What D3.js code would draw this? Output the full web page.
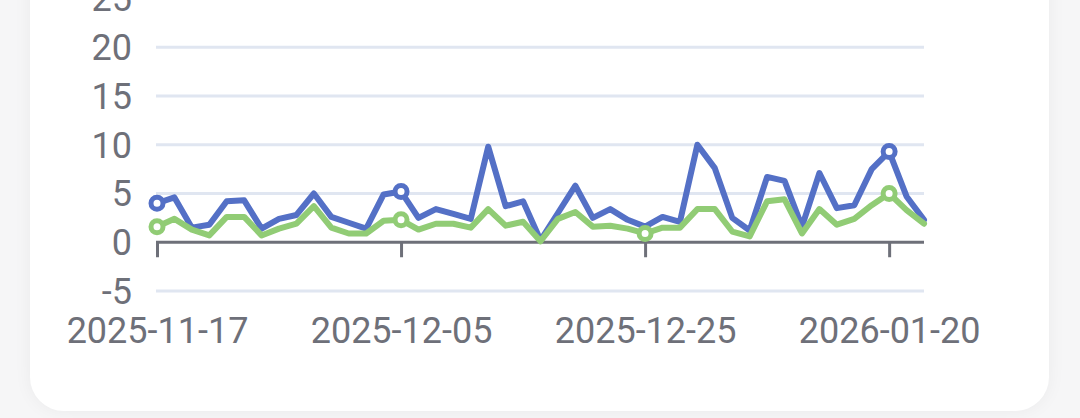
<!DOCTYPE html>
<html>
<head>
<meta charset="utf-8">
<script src="https://cdn.jsdelivr.net/npm/d3@7"></script>
<style>
  html, body { margin: 0; padding: 0; background: #f6f6f7; overflow: hidden; }
  .card {
    position: absolute; left: 30px; top: -60px; width: 1019px; height: 471px;
    background: #fff; border-radius: 34px;
    box-shadow: 0 0 18px rgba(0,0,0,0.05);
  }
  svg { position: absolute; left: 0; top: 0; }
  text { font-family: Roboto, "Noto Sans", sans-serif; }
</style>
</head>
<body>
<div class="card"></div>
<div class="chart"></div>
<script>
var NS = {};
NS.width = 1080;
NS.height = 418;

// categories (trading days)
var dates = [
  "2025-11-17", "2025-11-18", "2025-11-19", "2025-11-20", "2025-11-21",
  "2025-11-24", "2025-11-25", "2025-11-26", "2025-11-27", "2025-11-28",
  "2025-12-01", "2025-12-02", "2025-12-03", "2025-12-04", "2025-12-05",
  "2025-12-08", "2025-12-09", "2025-12-10", "2025-12-11", "2025-12-12",
  "2025-12-15", "2025-12-16", "2025-12-17", "2025-12-18", "2025-12-19",
  "2025-12-22", "2025-12-23", "2025-12-24", "2025-12-25", "2025-12-26",
  "2025-12-29", "2025-12-31", "2026-01-02", "2026-01-05", "2026-01-06",
  "2026-01-07", "2026-01-09", "2026-01-12", "2026-01-13", "2026-01-14",
  "2026-01-16", "2026-01-19", "2026-01-20", "2026-01-21", "2026-01-22"
];

var blueValues = [
  4.0, 4.6, 1.5, 1.8, 4.2, 4.3, 1.4, 2.4, 2.8, 5.0,
  2.6, 2.0, 1.4, 4.9, 5.2, 2.5, 3.4, 2.9, 2.4, 9.8,
  3.7, 4.2, 0.2, 3.0, 5.8, 2.5, 3.4, 2.3, 1.6, 2.6,
  2.1, 10.0, 7.6, 2.5, 1.2, 6.7, 6.3, 1.6, 7.1, 3.5,
  3.8, 7.5, 9.3, 4.7, 2.3
];

var greenValues = [
  1.6, 2.4, 1.3, 0.7, 2.6, 2.6, 0.7, 1.4, 1.9, 3.7,
  1.5, 0.9, 0.9, 2.2, 2.3, 1.3, 1.9, 1.9, 1.5, 3.4,
  1.7, 2.1, 0.1, 2.4, 3.1, 1.6, 1.7, 1.4, 0.9, 1.5,
  1.5, 3.4, 3.4, 1.1, 0.6, 4.2, 4.4, 0.9, 3.4, 1.8,
  2.4, 3.8, 5.0, 3.3, 1.9
];

// which categories carry a hollow marker
var blueMarks = [0, 14, 42];
var greenMarks = [0, 14, 28, 42];

var yTicks = [-5, 0, 5, 10, 15, 20, 25];
var labelEvery = 14;

function makeSVG() {
  NS.svg = d3.select(".chart")
    .append("svg")
    .attr("width", NS.width)
    .attr("height", NS.height);
}

function main() {
  makeSVG();
  var svg = NS.svg;
  var axisColor = "#6E7079";
  var fontSize = 36;

  var x = d3.scalePoint().domain(dates).range([157, 924]);
  var y = d3.scaleLinear().domain([-5, 25]).range([291, -1.5]);

  // grid lines
  svg.append("g").selectAll("line")
    .data(yTicks.filter(function(d) { return d !== 0; }))
    .enter().append("line")
      .attr("x1", 156).attr("x2", 924)
      .attr("y1", function(d) { return y(d); })
      .attr("y2", function(d) { return y(d); })
      .attr("stroke", "#E0E6F1")
      .attr("stroke-width", 3);

  // y labels
  svg.append("g").selectAll("text")
    .data(yTicks)
    .enter().append("text")
      .attr("x", 132)
      .attr("y", function(d) { return y(d); })
      .attr("dy", "0.36em")
      .attr("text-anchor", "end")
      .attr("font-size", fontSize)
      .attr("fill", axisColor)
      .text(function(d) { return d; });

  // x axis on zero
  var tickDates = dates.filter(function(d, i) { return i % labelEvery === 0; });
  var xAxis = d3.axisBottom(x)
    .tickValues(tickDates)
    .tickSize(15)
    .tickSizeOuter(0);

  var gx = svg.append("g")
    .attr("transform", "translate(0," + y(0) + ")")
    .call(xAxis);
  gx.select(".domain")
    .attr("d", "M156,0H924")
    .attr("stroke", axisColor)
    .attr("stroke-width", 3);
  gx.selectAll(".tick line")
    .attr("stroke", axisColor)
    .attr("stroke-width", 3);
  gx.selectAll(".tick text")
    .attr("y", y(-5) - y(0) + 26)
    .attr("dy", "0.71em")
    .attr("font-size", fontSize)
    .attr("font-family", "Roboto, 'Noto Sans', sans-serif")
    .attr("fill", axisColor);

  var series = [
    { values: blueValues, color: "#5470C6", marks: blueMarks },
    { values: greenValues, color: "#91CC75", marks: greenMarks }
  ];

  var line = d3.line()
    .x(function(d, i) { return x(dates[i]); })
    .y(function(d) { return y(d); });

  // each series: line then its symbols, later series on top
  series.forEach(function(s) {
    svg.append("path")
      .datum(s.values)
      .attr("d", line)
      .attr("fill", "none")
      .attr("stroke", s.color)
      .attr("stroke-width", 6)
      .attr("stroke-linejoin", "round")
      .attr("stroke-linecap", "round");

    svg.append("g").selectAll("circle")
      .data(s.marks)
      .enter().append("circle")
        .attr("cx", function(i) { return x(dates[i]); })
        .attr("cy", function(i) { return y(s.values[i]); })
        .attr("r", 6)
        .attr("fill", "#fff")
        .attr("stroke", s.color)
        .attr("stroke-width", 5);
  });
}

main();
</script>
</body>
</html>
